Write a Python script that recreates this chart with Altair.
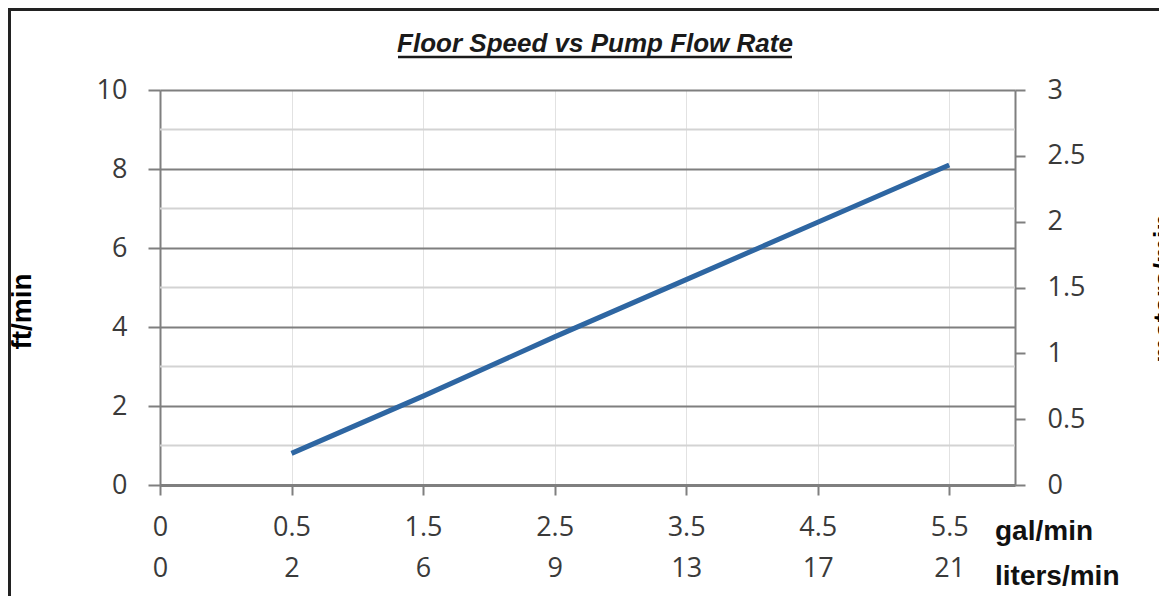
import json
import altair as alt
import pandas as pd

# ---- data ----
title_text = "Floor Speed vs Pump Flow Rate"
gal_labels = ["0", "0.5", "1.5", "2.5", "3.5", "4.5", "5.5"]
liter_labels = ["0", "2", "6", "9", "13", "17", "21"]
cat_idx = [0, 1, 2, 3, 4, 5, 6]
line_idx = [1, 2, 3, 4, 5, 6]
ft_per_min = [0.8, 2.25, 3.75, 5.2, 6.65, 8.1]
major_ft = [0, 2, 4, 6, 8, 10]
minor_ft = [1, 3, 5, 7, 9]
m_ticks = [0, 0.5, 1, 1.5, 2, 2.5, 3]
unit_labels = ["gal/min", "liters/min"]

W, H = 855, 395
LABEL_FONT = "Open Sans"
TITLE_FONT = "Liberation Sans"
GRAY = "#7f7f7f"
LABEL_COLOR = "#3a3a3a"

line_df = pd.DataFrame({"idx": line_idx, "ft": ft_per_min})
minor_df = pd.DataFrame({"ft": minor_ft})
m_df = pd.DataFrame({"m": m_ticks})

xscale = alt.Scale(domain=[0, 6.5], nice=False, zero=False)
yscale = alt.Scale(domain=[0, 10], nice=False, zero=False)

label_expr = "[" + json.dumps(gal_labels) + "[datum.value], " + json.dumps(liter_labels) + "[datum.value]]"

x_axis = alt.Axis(
    values=cat_idx, labelExpr=label_expr, grid=True, gridColor="#e2e2e2", gridWidth=1,
    domainColor=GRAY, domainWidth=3, tickColor=GRAY, tickWidth=2, tickSize=10,
    labelFont=LABEL_FONT, labelFontSize=27, labelColor=LABEL_COLOR, labelPadding=19,
    labelLineHeight=41, labelFlush=False, labelOverlap=False, title=None,
)
left_axis = alt.Axis(
    values=major_ft, grid=True, gridColor=GRAY, gridWidth=2,
    domainColor=GRAY, domainWidth=2, tickColor=GRAY, tickWidth=2, tickSize=12,
    labelFont=LABEL_FONT, labelFontSize=27, labelColor=LABEL_COLOR, labelPadding=21,
    title="ft/min", titleFont=TITLE_FONT, titleFontSize=28, titleFontWeight="bold",
    titleColor="#000000", titleAngle=270, titleX=-130, titleY=221,
    titleBaseline="alphabetic", titleAlign="center",
)
right_axis = alt.Axis(
    orient="right", values=m_ticks, format="~g", grid=False,
    domainColor=GRAY, domainWidth=2, tickColor=GRAY, tickWidth=2, tickSize=10,
    labelFont=LABEL_FONT, labelFontSize=27, labelColor=LABEL_COLOR, labelPadding=22,
    labelFlush=False,
    title="meters/min", titleFont=TITLE_FONT, titleFontSize=28, titleFontWeight="bold",
    titleColor="#000000", titleAngle=270, titleX=157, titleY=H / 2,
    titleBaseline="alphabetic", titleAlign="center",
)

minor = alt.Chart(minor_df).mark_rule(color="#d3d3d3", strokeWidth=2).encode(
    y=alt.Y("ft:Q", scale=yscale, axis=None)
)

line = alt.Chart(line_df).mark_line(color="#2e66a2", strokeWidth=5).encode(
    x=alt.X("idx:Q", scale=xscale, axis=x_axis),
    y=alt.Y("ft:Q", scale=yscale, axis=left_axis),
)

right = alt.Chart(m_df).mark_point(opacity=0).encode(
    y=alt.Y("m:Q", scale=alt.Scale(domain=[0, 3], nice=False, zero=False), axis=right_axis)
)

title_df = pd.DataFrame({"t": [title_text]})
title = alt.Chart(title_df).mark_text(
    font=TITLE_FONT, fontSize=26, fontStyle="italic", fontWeight="bold",
    align="center", baseline="alphabetic", color="#1a1a1a",
).encode(text="t:N", x=alt.value(435), y=alt.value(-38))

underline = alt.Chart(title_df).mark_rule(color="#1a1a1a", strokeWidth=2.5).encode(
    x=alt.value(238), x2=alt.value(632), y=alt.value(-33)
)

gal_text = alt.Chart(pd.DataFrame({"u": [unit_labels[0]]})).mark_text(
    font=TITLE_FONT, fontSize=28, fontWeight="bold", align="left", baseline="alphabetic", color="#111"
).encode(text="u:N", x=alt.value(835), y=alt.value(450))

lit_text = alt.Chart(pd.DataFrame({"u": [unit_labels[1]]})).mark_text(
    font=TITLE_FONT, fontSize=28, fontWeight="bold", align="left", baseline="alphabetic", color="#111"
).encode(text="u:N", x=alt.value(835), y=alt.value(495))

border = alt.Chart(title_df).mark_rect(fillOpacity=0, stroke="#222", strokeWidth=3).encode(
    x=alt.value(-150.5), x2=alt.value(1200), y=alt.value(-80.5), y2=alt.value(700)
)

chart = alt.layer(
    border, minor, line, right, title, underline, gal_text, lit_text
).resolve_scale(y="independent").properties(
    width=W, height=H,
    padding={"left": 152, "top": 82, "right": 144, "bottom": 111},
    autosize=alt.AutoSizeParams(type="none"),
    background="white",
).configure_view(stroke=None)

chart.save("out.html", embed_options={"renderer": "svg", "actions": False})
